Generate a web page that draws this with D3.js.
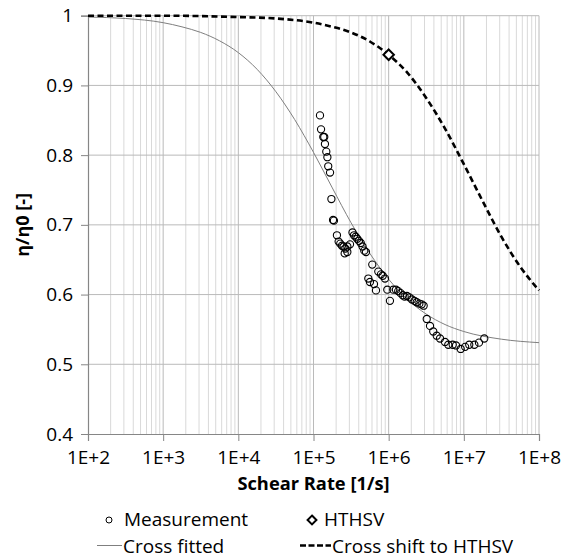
<!DOCTYPE html>
<html><head><meta charset="utf-8">
<script src="https://cdn.jsdelivr.net/npm/d3@7"></script>
<style>
html,body{margin:0;padding:0;background:#fff;}
svg{display:block;}
text{font-family:"Open Sans",sans-serif;fill:#000;}
</style></head>
<body>
<svg id="chart" width="561" height="558"></svg>
<script>
// ---- data ----
const xTicks = [1e2, 1e3, 1e4, 1e5, 1e6, 1e7, 1e8];
const xTickLabels = ["1E+2", "1E+3", "1E+4", "1E+5", "1E+6", "1E+7", "1E+8"];
const yTicks = [0.4, 0.5, 0.6, 0.7, 0.8, 0.9, 1];
const yTickLabels = ["0.4", "0.5", "0.6", "0.7", "0.8", "0.9", "1"];

// Measurement
const measRate = [1.22e5,1.26e5,1.35e5,1.39e5,1.42e5,1.48e5,1.53e5,1.57e5,1.66e5,1.73e5,
  1.82e5,1.87e5,2.05e5,2.16e5,2.27e5,2.39e5,2.51e5,2.65e5,2.82e5,3.06e5,2.60e5,2.82e5,
  3.30e5,3.46e5,3.64e5,3.82e5,4.03e5,4.25e5,4.49e5,4.74e5,4.99e5,6.05e5,5.36e5,5.64e5,
  6.38e5,6.78e5,7.28e5,7.91e5,8.33e5,8.93e5,9.59e5,1.04e6,1.15e6,1.25e6,1.34e6,1.44e6,
  1.54e6,1.63e6,1.75e6,1.89e6,2.04e6,2.21e6,2.36e6,2.56e6,2.75e6,2.92e6,3.21e6,3.55e6,
  3.92e6,4.36e6,4.82e6,5.62e6,6.21e6,7.11e6,7.87e6,9.08e6,1.04e7,1.18e7,1.38e7,1.59e7,1.87e7];
const measEta = [0.857,0.837,0.826,0.826,0.816,0.805,0.797,0.784,0.775,0.737,
  0.707,0.706,0.685,0.676,0.673,0.670,0.669,0.666,0.669,0.672,0.659,0.661,
  0.689,0.685,0.683,0.680,0.677,0.674,0.669,0.663,0.661,0.643,0.623,0.618,
  0.615,0.606,0.633,0.629,0.627,0.623,0.607,0.591,0.607,0.607,0.605,0.602,
  0.599,0.597,0.598,0.596,0.593,0.591,0.589,0.587,0.586,0.584,0.565,0.555,
  0.547,0.541,0.537,0.532,0.528,0.528,0.527,0.522,0.525,0.528,0.528,0.531,0.537];

// HTHSV point
const hthsvRate = [1e6];
const hthsvEta = [0.944];

// Cross fitted
const fitRate = [1e2,3.16e2,1e3,1.78e3,3.16e3,5.62e3,1e4,1.78e4,3.16e4,5.62e4,1e5,1.78e5,
  3.16e5,5.62e5,1e6,1.78e6,3.16e6,5.62e6,1e7,3.16e7,1e8];
const fitEta = [0.998,0.996,0.990,0.984,0.976,0.964,0.947,0.923,0.891,0.851,0.804,0.753,
  0.703,0.659,0.622,0.593,0.572,0.557,0.547,0.536,0.531];

// Cross shift to HTHSV
const shiftRate = [1e2,1e3,1e4,3.16e4,1e5,1.78e5,3.16e5,5.62e5,1e6,1.78e6,3.16e6,5.62e6,
  1e7,1.78e7,3.16e7,5.62e7,1e8];
const shiftEta = [1.000,1.000,0.998,0.996,0.990,0.984,0.976,0.963,0.944,0.918,0.882,0.838,
  0.787,0.734,0.683,0.640,0.606];

// ---- chart ----
const svg = d3.select("#chart");
const L = 88, R = 539, T = 15.7, B = 434;
const x = d3.scaleLog().domain([1e2, 1e8]).range([L, R]);
const y = d3.scaleLinear().domain([0.4, 1]).range([B, T]);

// minor vertical gridlines
const minor = [];
for (let e = 2; e < 8; e++) for (let k = 2; k <= 9; k++) minor.push(k * Math.pow(10, e));
svg.append("g").selectAll("line").data(minor).join("line")
  .attr("x1", d => x(d)).attr("x2", d => x(d)).attr("y1", T).attr("y2", B)
  .attr("stroke", "#d9d9d9").attr("stroke-width", 1);
// major vertical gridlines
svg.append("g").selectAll("line").data(xTicks.slice(1)).join("line")
  .attr("x1", d => x(d)).attr("x2", d => x(d)).attr("y1", T).attr("y2", B)
  .attr("stroke", "#bababa").attr("stroke-width", 1);
// horizontal gridlines
svg.append("g").selectAll("line").data(yTicks.slice(1)).join("line")
  .attr("x1", L).attr("x2", R).attr("y1", d => y(d)).attr("y2", d => y(d))
  .attr("stroke", "#bababa").attr("stroke-width", 1);

// axes
const xAxis = d3.axisBottom(x).tickValues(xTicks).tickFormat((d, i) => xTickLabels[i]).tickSizeOuter(0).tickSize(7).tickPadding(10);
const gx = svg.append("g").attr("transform", `translate(0,${B})`).call(xAxis);
const yAxis = d3.axisLeft(y).tickValues(yTicks).tickFormat((d, i) => yTickLabels[i]).tickSizeOuter(0).tickSize(7).tickPadding(8);
const gy = svg.append("g").attr("transform", `translate(${L},0)`).call(yAxis);
[gx, gy].forEach(g => {
  g.select(".domain").attr("stroke", "#868686").attr("stroke-width", 1.2);
  g.selectAll(".tick line").attr("stroke", "#868686");
  g.selectAll(".tick text").attr("font-family", "Open Sans").attr("font-size", 19).attr("fill", "#1a1a1a");
});

// fitted line
const line = d3.line().x(d => x(d[0])).y(d => y(d[1])).curve(d3.curveMonotoneX);
svg.append("path").datum(fitRate.map((r, i) => [r, fitEta[i]]))
  .attr("d", line).attr("fill", "none").attr("stroke", "#7f7f7f").attr("stroke-width", 1);
// dashed shift line
svg.append("path").datum(shiftRate.map((r, i) => [r, shiftEta[i]]))
  .attr("d", line).attr("fill", "none").attr("stroke", "#000").attr("stroke-width", 2.6)
  .attr("stroke-dasharray", "6,3.5");

// measurement circles
svg.append("g").selectAll("circle").data(measRate.map((r, i) => [r, measEta[i]])).join("circle")
  .attr("cx", d => x(d[0])).attr("cy", d => y(d[1])).attr("r", 3.6)
  .attr("fill", "none").attr("stroke", "#000").attr("stroke-width", 1.1);

// HTHSV diamond
const diamond = d3.symbol().type(d3.symbolDiamond2).size(70);
svg.append("g").selectAll("path").data(hthsvRate.map((r, i) => [r, hthsvEta[i]])).join("path")
  .attr("d", diamond).attr("transform", d => `translate(${x(d[0])},${y(d[1])})`)
  .attr("fill", "#fff").attr("stroke", "#000").attr("stroke-width", 2);

// axis titles
svg.append("text").attr("x", (L + R) / 2).attr("y", 490).attr("text-anchor", "middle")
  .attr("font-size", 18.3).attr("font-weight", "bold").text("Schear Rate [1/s]");
svg.append("text").attr("transform", `translate(29,${(T + B) / 2}) rotate(-90)`).attr("text-anchor", "middle")
  .attr("font-size", 18).attr("font-weight", "bold").text("η/η0 [-]");

// legend
const lg = svg.append("g").attr("font-size", 19);
lg.append("circle").attr("cx", 109).attr("cy", 520).attr("r", 3).attr("fill", "none").attr("stroke", "#000").attr("stroke-width", 1);
lg.append("text").attr("x", 124).attr("y", 526).text("Measurement");
lg.append("path").attr("d", d3.symbol().type(d3.symbolDiamond2).size(50)).attr("transform", "translate(312,520)")
  .attr("fill", "#fff").attr("stroke", "#000").attr("stroke-width", 2);
lg.append("text").attr("x", 324).attr("y", 526).text("HTHSV");
lg.append("line").attr("x1", 97).attr("x2", 122).attr("y1", 545.5).attr("y2", 545.5).attr("stroke", "#7f7f7f").attr("stroke-width", 1);
lg.append("text").attr("x", 123).attr("y", 552.5).text("Cross fitted");
lg.append("line").attr("x1", 300).attr("x2", 331).attr("y1", 545.5).attr("y2", 545.5).attr("stroke", "#000").attr("stroke-width", 2.6).attr("stroke-dasharray", "6,2.5");
lg.append("text").attr("x", 332).attr("y", 552.5).text("Cross shift to HTHSV");
</script>
</body></html>
